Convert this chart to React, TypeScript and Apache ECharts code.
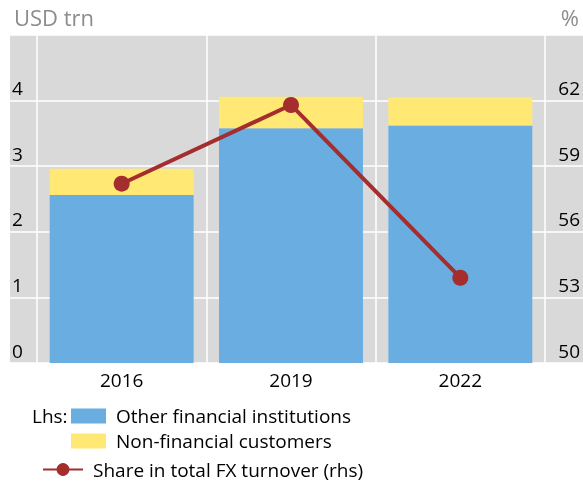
import React, { useEffect, useRef } from "react";
import * as echarts from "echarts";

const categories = ["2016", "2019", "2022"];
const otherFinancial = [2.56, 3.58, 3.62];
const nonFinancial = [0.4, 0.48, 0.43];
const shareTotal = [58.2, 61.8, 53.9];

const lhsMin = 0, lhsMax = 5, lhsInterval = 1;
const rhsMin = 50, rhsMax = 65, rhsInterval = 3;

const FONT = "'Open Sans', 'Noto Sans', sans-serif";
const BLUE = "#6aade0";
const YELLOW = "#ffe873";
const RED = "#a52d2d";
const GREY = "#d9d9d9";
const FS = 19;

export default function App() {
  const ref = useRef<HTMLDivElement>(null);
  useEffect(() => {
    if (!ref.current) return;
    const chart = echarts.init(ref.current, null, { renderer: "svg" });
    const top = 35, height = 328;
    chart.setOption({
      animation: false,
      textStyle: { fontFamily: FONT },
      grid: [
        { left: 10, right: 0, top, height, show: true, backgroundColor: GREY, borderWidth: 0, containLabel: false },
        { left: 37, right: 38, top, height, containLabel: false },
      ],
      xAxis: [
        { gridIndex: 0, type: "value", show: false, min: 0, max: 1 },
        {
          gridIndex: 1,
          type: "category",
          data: categories,
          axisLine: { show: false },
          axisTick: { show: false },
          splitLine: { show: true, lineStyle: { color: "#ffffff", width: 1.5 } },
          axisLabel: { color: "#000", fontSize: FS, margin: 7, fontFamily: FONT },
        },
      ],
      yAxis: [
        {
          gridIndex: 0, type: "value", min: lhsMin, max: lhsMax, interval: lhsInterval, position: "left",
          axisLine: { show: false }, axisTick: { show: false },
          splitLine: { show: true, lineStyle: { color: "#ffffff", width: 1.5 } },
          axisLabel: { inside: true, margin: 2, align: "left", verticalAlign: "bottom", showMaxLabel: false, color: "#000", fontSize: FS, lineHeight: 19, padding: [0, 0, 3, 0], fontFamily: FONT },
        },
        {
          gridIndex: 0, type: "value", min: rhsMin, max: rhsMax, interval: rhsInterval, position: "right",
          axisLine: { show: false }, axisTick: { show: false }, splitLine: { show: false },
          axisLabel: { inside: true, margin: 3, align: "right", verticalAlign: "bottom", showMaxLabel: false, color: "#000", fontSize: FS, lineHeight: 19, padding: [0, 0, 3, 0], fontFamily: FONT },
        },
        { gridIndex: 1, type: "value", min: lhsMin, max: lhsMax, interval: lhsInterval, show: false, splitLine: { show: false } },
        { gridIndex: 1, type: "value", min: rhsMin, max: rhsMax, interval: rhsInterval, show: false, splitLine: { show: false } },
      ],
      legend: [
        {
          left: 71, top: 406, padding: 0, itemWidth: 35, itemHeight: 15, icon: "rect",
          data: ["Other financial institutions"],
          textStyle: { color: "#000", fontSize: FS, lineHeight: 20, padding: [0, 0, 0, 5], fontFamily: FONT },
        },
        {
          left: 71, top: 431, padding: 0, itemWidth: 35, itemHeight: 15, icon: "rect",
          data: ["Non-financial customers"],
          textStyle: { color: "#000", fontSize: FS, lineHeight: 20, padding: [0, 0, 0, 5], fontFamily: FONT },
        },
        {
          left: 42, top: 460, padding: 0, itemWidth: 40, itemHeight: 16,
          data: ["Share in total FX turnover (rhs)"],
          textStyle: { color: "#000", fontSize: FS, lineHeight: 18, padding: [0, 0, 0, 5], fontFamily: FONT },
        },
      ],
      graphic: [
        { type: "text", left: 14, top: 6, style: { text: "USD trn", fill: "#8c8c8c", fontSize: 22, fontFamily: FONT } },
        { type: "text", right: 4, top: 6, style: { text: "%", fill: "#8c8c8c", fontSize: 22, fontFamily: FONT } },
        { type: "text", left: 32, top: 406, style: { text: "Lhs:", fill: "#000", fontSize: FS, lineHeight: 20, fontFamily: FONT } },
      ],
      series: [
        {
          name: "Other financial institutions", type: "bar", stack: "total", xAxisIndex: 1, yAxisIndex: 2,
          data: otherFinancial, barCategoryGap: "15%", itemStyle: { color: BLUE },
        },
        {
          name: "Non-financial customers", type: "bar", stack: "total", xAxisIndex: 1, yAxisIndex: 2,
          data: nonFinancial, barCategoryGap: "15%", itemStyle: { color: YELLOW },
        },
        {
          name: "Share in total FX turnover (rhs)", type: "line", xAxisIndex: 1, yAxisIndex: 3,
          data: shareTotal, symbol: "circle", symbolSize: 16, z: 5,
          lineStyle: { color: RED, width: 4 }, itemStyle: { color: RED },
        },
      ],
    });
    return () => chart.dispose();
  }, []);
  return <div ref={ref} style={{ position: "fixed", left: 0, top: 0, width: 583, height: 481 }} />;
}
